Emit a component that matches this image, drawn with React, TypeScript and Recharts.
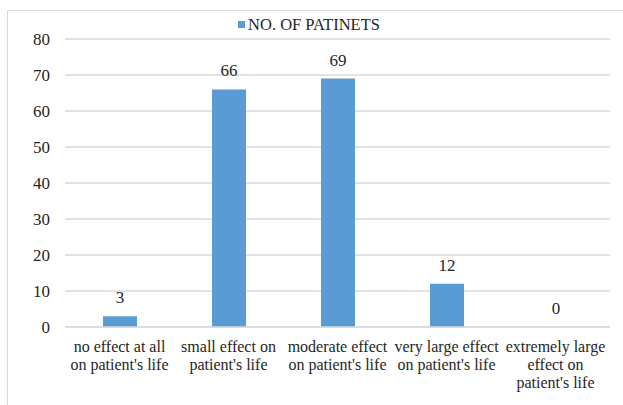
import React from 'react';
import { BarChart, Bar, XAxis, YAxis, CartesianGrid, Legend, LabelList } from 'recharts';

const categories = [
  "no effect at all\non patient's life",
  "small effect on\npatient's life",
  "moderate effect\non patient's life",
  "very large effect\non patient's life",
  "extremely large\neffect on\npatient's life",
];
const patients = [3, 66, 69, 12, 0];
const yTicks = [0, 10, 20, 30, 40, 50, 60, 70, 80];
const seriesName = 'NO. OF PATINETS';

const data = categories.map((c, i) => ({ name: c, value: patients[i] }));

const FONT = 'Liberation Serif';
const TEXT = '#262626';
const BLUE = '#5B9BD5';

const XTick = (props: any) => {
  const { x, y, payload } = props;
  const lines = String(payload.value).split('\n');
  return (
    <text x={x} y={y} textAnchor="middle" fontFamily={FONT} fontSize={16} fill={TEXT}>
      {lines.map((l, i) => (
        <tspan key={i} x={x} dy={i === 0 ? 21 : 18}>{l}</tspan>
      ))}
    </text>
  );
};

const BarLabel = (props: any) => {
  const { x, y, width, value } = props;
  return (
    <text x={Number(x) + Number(width) / 2} y={Number(y) - 13} textAnchor="middle" fontFamily={FONT} fontSize={17} fill={TEXT}>
      {String(value)}
    </text>
  );
};

const LegendContent = () => (
  <div style={{ display: 'flex', justifyContent: 'center', alignItems: 'center', height: 29, paddingLeft: 8, fontFamily: FONT, fontSize: 16.5, color: TEXT }}>
    <span style={{ display: 'inline-block', width: 7, height: 7, background: BLUE, marginRight: 3 }} />
    <span>{seriesName}</span>
  </div>
);

export default function App() {
  return (
    <div style={{ position: 'absolute', left: 0, top: 0, width: 623, height: 405, overflow: 'hidden', background: '#fff' }}>
      <div style={{ position: 'absolute', left: 7, top: 10, width: 640, height: 420, border: '1px solid #d9d9d9', boxSizing: 'border-box' }} />
      <div style={{ position: 'absolute', left: 0, top: 0 }}>
        <BarChart width={623} height={405} data={data} margin={{ top: 10, right: 13, left: 0, bottom: 0 }} barCategoryGap="0%">
          <CartesianGrid vertical={false} stroke="#d9d9d9" strokeWidth={1.3} />
          <XAxis dataKey="name" interval={0} height={78} tickLine={false} axisLine={{ stroke: '#d9d9d9', strokeWidth: 1.3 }} tick={<XTick />} tickSize={0} tickMargin={4} />
          <YAxis width={65} domain={[0, 80]} ticks={yTicks} tickLine={false} axisLine={false} tickSize={0} tickMargin={15}
            tick={{ fontFamily: FONT, fontSize: 17, fill: TEXT }} />
          <Legend verticalAlign="top" align="center" height={29} content={<LegendContent />} />
          <Bar dataKey="value" name={seriesName} fill={BLUE} barSize={34} minPointSize={0.01} isAnimationActive={false}>
            <LabelList dataKey="value" content={<BarLabel />} />
          </Bar>
        </BarChart>
      </div>
    </div>
  );
}
